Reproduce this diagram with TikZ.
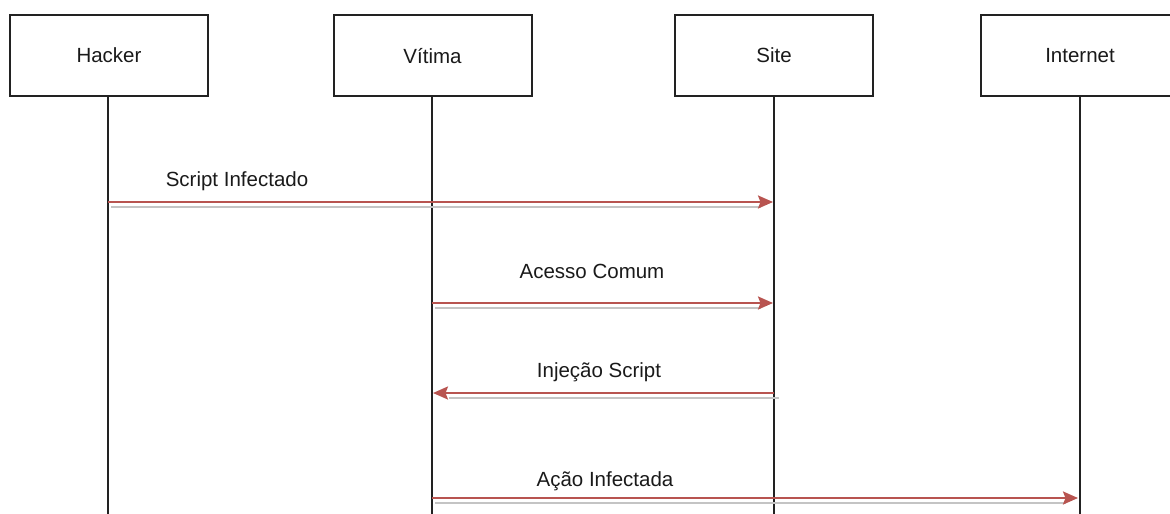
\documentclass[tikz,border=0pt]{standalone}
\usepackage{fontspec}
\setmainfont{Liberation Sans}
\usetikzlibrary{arrows.meta}
\definecolor{msgred}{HTML}{B85450}
\definecolor{shadowgray}{HTML}{C4C4C4}
\definecolor{linegray}{HTML}{222222}
\definecolor{txt}{HTML}{1A1A1A}
\tikzset{
  actor/.style={draw=linegray, line width=2pt, fill=white, minimum width=198pt, minimum height=81pt, inner sep=0pt, text=txt, font=\fontsize{20.5}{24}\selectfont, text depth=0pt},
  lifeline/.style={draw=linegray, line width=2pt},
  msg/.style={draw=msgred, line width=2.2pt, -{Stealth[length=15pt,width=13pt,inset=2.5pt]}},
  msgshadow/.style={draw=shadowgray, line width=2.4pt},
  lbl/.style={text=txt, font=\fontsize{20.5}{24}\selectfont, inner sep=0pt}
}
\begin{document}
\begin{tikzpicture}[x=1pt,y=-1pt]
\useasboundingbox (0,0) rectangle (1170,514);
\clip (0,0) rectangle (1170,514);
% actors
\node[actor] (hacker) at (109,55.5) {Hacker};
\node[actor] (vitima) at (432.5,55.5) {Vítima};
\node[actor] (site) at (774,55.5) {Site};
\node[actor] (internet) at (1080,55.5) {Internet};
% lifeline ends
\coordinate (hackerend) at (108,514);
\coordinate (vitimaend) at (432,514);
\coordinate (siteend) at (774,514);
\coordinate (internetend) at (1080,514);
\draw[lifeline] (hacker.south -| hackerend) -- (hackerend);
\draw[lifeline] (vitima.south -| vitimaend) -- (vitimaend);
\draw[lifeline] (site.south -| siteend) -- (siteend);
\draw[lifeline] (internet.south -| internetend) -- (internetend);
% message anchor points
\coordinate (m1a) at (108,202);
\coordinate (m1b) at (773,202);
\coordinate (m2a) at (432,303);
\coordinate (m2b) at (773,303);
\coordinate (m3a) at (774,393);
\coordinate (m3b) at (433,393);
\coordinate (m4a) at (432,498);
\coordinate (m4b) at (1078,498);
% shadows
\draw[msgshadow] ([shift={(3,5)}]m1a) -- ([shift={(-12,5)}]m1b);
\draw[msgshadow] ([shift={(3,5)}]m2a) -- ([shift={(-12,5)}]m2b);
\draw[msgshadow] ([shift={(5,5)}]m3a) -- ([shift={(16,5)}]m3b);
\draw[msgshadow] ([shift={(3,5)}]m4a) -- ([shift={(-12,5)}]m4b);
% messages
\draw[msg] (m1a) -- (m1b);
\draw[msg] (m2a) -- (m2b);
\draw[msg] (m3a) -- (m3b);
\draw[msg] (m4a) -- (m4b);
% labels
\node[lbl] (l1) at (237,181) {Script Infectado};
\node[lbl] (l2) at (592,271) {Acesso Comum};
\node[lbl] (l3) at (599,372) {Injeção Script};
\node[lbl] (l4) at (605,481) {Ação Infectada};
\end{tikzpicture}
\end{document}
